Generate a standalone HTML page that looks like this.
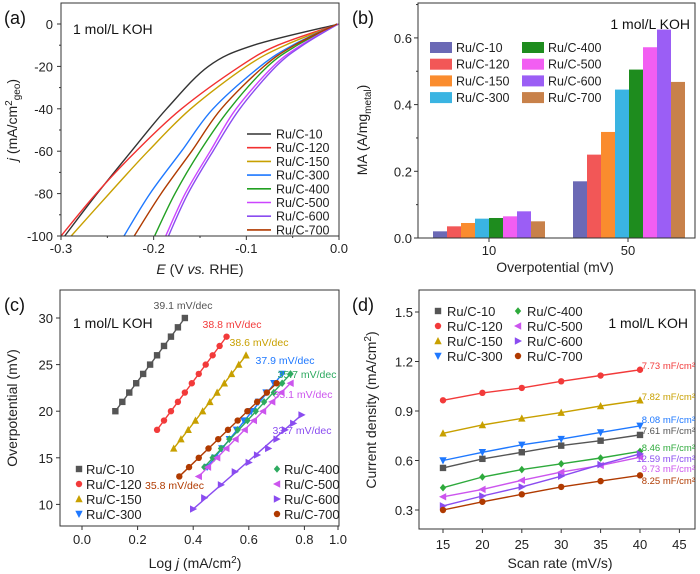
<!DOCTYPE html>
<html><head><meta charset="utf-8"><style>
body{margin:0;background:#fff}
svg{display:block;font-family:"Liberation Sans",Arial,sans-serif}
</style></head><body>
<svg id="fig" width="700" height="574" viewBox="0 0 700 574" xmlns="http://www.w3.org/2000/svg"></svg>
<script>
// ---------- Panel (a) data ----------
const aNames = ["Ru/C-10","Ru/C-120","Ru/C-150","Ru/C-300","Ru/C-400","Ru/C-500","Ru/C-600","Ru/C-700"];
const aColors = ["#333333","#f23030","#c8a000","#1e78ff","#22a022","#cc44ff","#8a4cf0","#b03a00"];
const aJ = [0,-10,-20,-40,-60,-80,-100];
const aE10  = [0,-0.092,-0.141,-0.186,-0.224,-0.261,-0.296];
const aE120 = [0,-0.066,-0.107,-0.170,-0.219,-0.262,-0.300];
const aE150 = [0,-0.058,-0.100,-0.160,-0.206,-0.248,-0.289];
const aE300 = [-0.002,-0.050,-0.085,-0.136,-0.170,-0.204,-0.232];
const aE400 = [-0.002,-0.045,-0.077,-0.118,-0.150,-0.177,-0.199];
const aE500 = [-0.001,-0.041,-0.071,-0.111,-0.139,-0.166,-0.187];
const aE600 = [-0.001,-0.039,-0.068,-0.107,-0.136,-0.163,-0.184];
const aE700 = [-0.002,-0.048,-0.081,-0.127,-0.159,-0.192,-0.221];
const aSeries = [aE10,aE120,aE150,aE300,aE400,aE500,aE600,aE700];
const aXTicks = [-0.3,-0.2,-0.1,0.0];
const aYTicks = [0,-20,-40,-60,-80,-100];
// ---------- Panel (b) data ----------
const bCats = ["10","50"];
const bColors = ["#6b69b5","#f25757","#fa8c2e","#3ab4e2","#1e8c1e","#f25ef2","#9b5ef5","#c8814a"];
const bVals10 = [0.02,0.035,0.045,0.058,0.06,0.065,0.08,0.05];
const bVals50 = [0.17,0.25,0.318,0.445,0.505,0.572,0.625,0.468];
const bYTicks = [0.0,0.2,0.4,0.6];
// ---------- Panel (c) data ----------
const cColors = ["#555555","#f23a3a","#c8a000","#1e78ff","#2eaa60","#cc55ee","#8a4cf0","#b03a00"];
const cX10  = [0.12,0.145,0.17,0.195,0.22,0.245,0.27,0.295,0.32,0.345,0.37];
const cY10  = [20,21,22,23,24,25,26,27,28,29,30];
const cX120 = [0.27,0.295,0.32,0.345,0.37,0.395,0.42,0.445,0.47,0.495,0.52];
const cY120 = [18,19,20,21,22,23,24,25,26,27,28];
const cX150 = [0.33,0.356,0.382,0.408,0.434,0.46,0.486,0.512,0.538,0.564,0.59];
const cY150 = [16,17,18,19,20,21,22,23,24,25,26];
const cX300 = [0.45,0.477,0.503,0.53,0.556,0.582,0.609,0.635,0.662,0.69,0.72];
const cY300 = [14,15,16,17,18,19,20,21,22,23,24];
const cX400 = [0.44,0.47,0.50,0.53,0.56,0.595,0.625,0.655,0.69,0.72,0.75];
const cY400 = [14,15,16,17,18,19,20,21,22,23,24];
const cX500 = [0.42,0.453,0.486,0.519,0.552,0.585,0.618,0.651,0.684,0.717,0.75];
const cY500 = [13,14,15,16,17,18,19,20,21,22,23];
const cX600 = [0.40,0.44,0.50,0.55,0.60,0.63,0.67,0.70,0.73,0.76,0.79];
const cY600 = [9.5,10.7,12.1,13.5,14.5,15.3,16,17,18,18.7,19.6];
const cX700 = [0.35,0.385,0.42,0.455,0.49,0.525,0.56,0.595,0.63,0.665,0.70];
const cY700 = [13,14,15,16,17,18,19,20,21,22,23];
const cXs = [cX10,cX120,cX150,cX300,cX400,cX500,cX600,cX700];
const cYs = [cY10,cY120,cY150,cY300,cY400,cY500,cY600,cY700];
const cMarkers = ["square","circle","up","down","diamond","left","right","circle"];
const cSlopes = ["39.1 mV/dec","38.8 mV/dec","38.6 mV/dec","37.9 mV/dec","35.7 mV/dec","35.1 mV/dec","33.7 mV/dec","35.8 mV/dec"];
const cXTicks = [0.0,0.2,0.4,0.6,0.8,1.0];
const cYTicks = [10,15,20,25,30];
// ---------- Panel (d) data ----------
const dRates = [15,20,25,30,35,40];
const d10  = [0.555,0.61,0.65,0.69,0.72,0.755];
const d120 = [0.965,1.01,1.04,1.08,1.115,1.15];
const d150 = [0.765,0.815,0.855,0.89,0.93,0.965];
const d300 = [0.60,0.65,0.695,0.73,0.77,0.81];
const d400 = [0.435,0.50,0.545,0.58,0.615,0.655];
const d500 = [0.38,0.425,0.48,0.53,0.57,0.62];
const d600 = [0.325,0.385,0.44,0.505,0.575,0.64];
const d700 = [0.30,0.35,0.395,0.44,0.475,0.51];
const dSeries = [d10,d120,d150,d300,d400,d500,d600,d700];
const dColors = ["#555555","#f23a3a","#c8a000","#1e78ff","#2eaa3c","#cc55ee","#8a4cf0","#b03a00"];
const dCdl = ["7.61 mF/cm²","7.73 mF/cm²","7.82 mF/cm²","8.08 mF/cm²","8.46 mF/cm²","9.73 mF/cm²","12.59 mF/cm²","8.25 mF/cm²"];
const dXTicks = [15,20,25,30,35,40,45];
const dYTicks = [0.3,0.6,0.9,1.2,1.5];

const NS="http://www.w3.org/2000/svg";
const svg=document.getElementById('fig');
function mk(tag,attrs,parent,txt){const e=document.createElementNS(NS,tag);for(const k in attrs)e.setAttribute(k,attrs[k]);if(txt!==undefined)e.textContent=txt;(parent||svg).appendChild(e);return e;}
function txt(x,y,s,size,anchor,fill,name,extra){const e=mk('text',Object.assign({x:x,y:y,'font-size':size,'text-anchor':anchor||'start',fill:fill||'#222'},extra||{}),svg,s);


return e;}
function line(x1,y1,x2,y2,name,stroke,w){const e=mk('line',{x1:x1,y1:y1,x2:x2,y2:y2,stroke:stroke||'#333','stroke-width':w||1});


return e;}
function box(x1,y1,x2,y2,name){const e=mk('rect',{x:x1,y:y1,width:x2-x1,height:y2-y1,fill:'none',stroke:'#333','stroke-width':1});

}
function smooth(pts){let d='M'+pts[0][0].toFixed(1)+','+pts[0][1].toFixed(1);
for(let i=0;i<pts.length-1;i++){const p0=pts[Math.max(0,i-1)],p1=pts[i],p2=pts[i+1],p3=pts[Math.min(pts.length-1,i+2)];
const c1=[p1[0]+(p2[0]-p0[0])/6,p1[1]+(p2[1]-p0[1])/6],c2=[p2[0]-(p3[0]-p1[0])/6,p2[1]-(p3[1]-p1[1])/6];
d+=' C'+c1.map(v=>v.toFixed(1)).join(',')+' '+c2.map(v=>v.toFixed(1)).join(',')+' '+p2.map(v=>v.toFixed(1)).join(',');}
return d;}
function marker(type,x,y,color,name){let e;const s=3.2;
if(type==='square')e=mk('rect',{x:x-s,y:y-s,width:2*s,height:2*s,fill:color});
else if(type==='circle')e=mk('circle',{cx:x,cy:y,r:s,fill:color});
else{let p;if(type==='up')p=[[x,y-s-0.8],[x-s-0.5,y+s],[x+s+0.5,y+s]];else if(type==='down')p=[[x,y+s+0.8],[x-s-0.5,y-s],[x+s+0.5,y-s]];else if(type==='left')p=[[x-s-0.8,y],[x+s,y-s-0.5],[x+s,y+s+0.5]];else if(type==='right')p=[[x+s+0.8,y],[x-s,y-s-0.5],[x-s,y+s+0.5]];else p=[[x,y-s-0.6],[x+s,y],[x,y+s+0.6],[x-s,y]];
e=mk('polygon',{points:p.map(q=>q.join(',')).join(' '),fill:color});}

}

// ================= Panel (a) =================
(function(){
const L=61,R=339,T=3,B=236;
const xs=v=>L+(v+0.3)/0.3*(R-L);
const ys=v=>24+(0-v)*2.12;
txt(4,24,'(a)',18,'start','#111','panel-label-a');
txt(73,34,'1 mol/L KOH',14,'start','#111','electrolyte-label-a');
const clip=mk('clipPath',{id:'clipA'});mk('rect',{x:L,y:T,width:R-L,height:B-T},clip);
aSeries.forEach((E,i)=>{const pts=E.map((e,k)=>[xs(e),ys(aJ[k])]);
const p=mk('path',{d:smooth(pts),fill:'none',stroke:aColors[i],'stroke-width':1.4,'stroke-linejoin':'round','clip-path':'url(#clipA)'});

});
box(L,T,R,B,'plot-frame-a');
aYTicks.forEach(v=>{line(L-4,ys(v),L,ys(v),'y-tick-a');txt(L-8,ys(v)+5,String(v),13,'end','#222','y-tick-label-a');});
for(let v=-90;v<=0;v+=20)line(L-2,ys(v),L,ys(v),'y-minor-tick-a');
aXTicks.forEach(v=>{line(xs(v),B,xs(v),B+4,'x-tick-a');txt(xs(v),B+17,v.toFixed(1),13,'middle','#222','x-tick-label-a');});
[-0.25,-0.15,-0.05].forEach(v=>line(xs(v),B,xs(v),B+2,'x-minor-tick-a'));
const xt=txt(200,274,'',14,'middle','#222','x-axis-title-a');
xt.innerHTML='<tspan font-style="italic">E</tspan> (V <tspan font-style="italic">vs.</tspan> RHE)';
const yt=txt(0,0,'',14,'middle','#222','y-axis-title-a',{transform:'translate(17,120) rotate(-90)'});
yt.innerHTML='<tspan font-style="italic">j</tspan> (mA/cm<tspan dy="-5" font-size="10">2</tspan><tspan dy="8" font-size="10">geo</tspan><tspan dy="-3">)</tspan>';
aNames.forEach((n,i)=>{const y=134+i*13.7;line(247,y,271,y,'legend-line-a',aColors[i],1.6);txt(276,y+4.5,n,12.5,'start','#222','legend-entry-a');});
})();

// ================= Panel (b) =================
(function(){
const L=418,R=695,T=3,B=238;
const ys=v=>B-v/0.2*66.7;
const bw=14;
txt(352,24,'(b)',18,'start','#111','panel-label-b');
txt(690,29,'1 mol/L KOH',14,'end','#111','electrolyte-label-b');
const groups=[bVals10,bVals50];const starts=[433,573];
groups.forEach((vals,g)=>vals.forEach((v,i)=>{const r=mk('rect',{x:starts[g]+i*bw,y:ys(v),width:bw,height:B-ys(v),fill:bColors[i]});

}));
box(L,T,R,B,'plot-frame-b');
bYTicks.forEach(v=>{line(L-4,ys(v),L,ys(v),'y-tick-b');txt(L-6,ys(v)+5,v.toFixed(1),13,'end','#222','y-tick-label-b');});
[0.1,0.3,0.5,0.7].forEach(v=>line(L-2,ys(v),L,ys(v),'y-minor-tick-b'));
const cx=[489,628];
bCats.forEach((c,i)=>{line(cx[i],B,cx[i],B+4,'x-tick-b');txt(cx[i],B+17,c,13,'middle','#222','x-tick-label-b');});
txt(555,272,'Overpotential (mV)',14,'middle','#222','x-axis-title-b');
const yt=txt(0,0,'',14,'middle','#222','y-axis-title-b',{transform:'translate(367,130) rotate(-90)'});
yt.innerHTML='MA (A/mg<tspan dy="4" font-size="10">metal</tspan><tspan dy="-4">)</tspan>';
aNames.forEach((n,i)=>{const col=Math.floor(i/4),row=i%4;const x=col?522:430,y=42+row*16.7;
const s=mk('rect',{x:x,y:y,width:22,height:11,fill:bColors[i]});


txt(x+26,y+10,n,12.5,'start','#222','legend-entry-b');});
})();

// ================= Panel (c) =================
(function(){
const L=60,R=339,T=290,B=526;
const xs=v=>82+v*278;
const ys=v=>318+(30-v)*9.32;
txt(4,311,'(c)',18,'start','#111','panel-label-c');
txt(73,328,'1 mol/L KOH',14,'start','#111','electrolyte-label-c');
cXs.forEach((X,i)=>{const Y=cYs[i];
const l=mk('line',{x1:xs(X[0]),y1:ys(Y[0]),x2:xs(X[X.length-1]),y2:ys(Y[Y.length-1]),stroke:cColors[i],'stroke-width':1.4});


X.forEach((x,k)=>marker(cMarkers[i],xs(x),ys(Y[k]),cColors[i],'tafel-point'));});
box(L,T,R,B,'plot-frame-c');
cYTicks.forEach(v=>{line(L-4,ys(v),L,ys(v),'y-tick-c');txt(L-7,ys(v)+5,String(v),13,'end','#222','y-tick-label-c');});
cXTicks.forEach(v=>{const x=Math.min(xs(v),338);line(x,B,x,B+4,'x-tick-c');txt(x,B+18,v.toFixed(1),13,'middle','#222','x-tick-label-c');});
const slopePos=[[183,309],[232,328],[259,346],[285,364],[307,378],[303,398],[302,434],[145,489]];
cSlopes.forEach((s,i)=>txt(slopePos[i][0],slopePos[i][1],s,10.5,i===7?'start':'middle',cColors[i],'slope-label'));
const xt=txt(195,568,'',14,'middle','#222','x-axis-title-c');
xt.innerHTML='Log <tspan font-style="italic">j</tspan> (mA/cm<tspan dy="-5" font-size="10">2</tspan><tspan dy="5">)</tspan>';
txt(0,0,'Overpotential (mV)',14,'middle','#222','y-axis-title-c',{transform:'translate(17,408) rotate(-90)'});
aNames.forEach((n,i)=>{const col=Math.floor(i/4),row=i%4;const x=col?277:79,y=469+row*15;
marker(cMarkers[i],x,y,cColors[i],'legend-marker-c');
txt(x+7,y+5,n,13,'start','#222','legend-entry-c');});
})();

// ================= Panel (d) =================
(function(){
const L=419,R=695,T=290,B=529;
const xs=v=>443+(v-15)/5*39.4;
const ys=v=>510-(v-0.3)/0.3*49.5;
txt(352,311,'(d)',18,'start','#111','panel-label-d');
txt(688,328,'1 mol/L KOH',14,'end','#111','electrolyte-label-d');
dSeries.forEach((vals,i)=>{const d=vals.map((v,k)=>(k?'L':'M')+xs(dRates[k]).toFixed(1)+','+ys(v).toFixed(1)).join(' ');
const p=mk('path',{d:d,fill:'none',stroke:dColors[i],'stroke-width':1.4});


vals.forEach((v,k)=>marker(cMarkers[i],xs(dRates[k]),ys(v),dColors[i],'cdl-point'));});
box(L,T,R,B,'plot-frame-d');
dYTicks.forEach(v=>{line(L-4,ys(v),L,ys(v),'y-tick-d');txt(L-6,ys(v)+5,v.toFixed(1),13,'end','#222','y-tick-label-d');});
dXTicks.forEach(v=>{line(xs(v),B,xs(v),B+4,'x-tick-d');txt(xs(v),B+20,String(v),13,'middle','#222','x-tick-label-d');});
txt(560,568,'Scan rate (mV/s)',14,'middle','#222','x-axis-title-d');
const yt=txt(0,0,'',14,'middle','#222','y-axis-title-d',{transform:'translate(376,410) rotate(-90)'});
yt.innerHTML='Current density (mA/cm<tspan dy="-5" font-size="10">2</tspan><tspan dy="5">)</tspan>';
const labY=[434,369,400,423,451,472,462,484];
dCdl.forEach((s,i)=>txt(695,labY[i],s,9.5,'end',dColors[i],'cdl-label'));
aNames.forEach((n,i)=>{const col=Math.floor(i/4),row=i%4;const x=col?518:438,y=311+row*15;
marker(cMarkers[i],x,y,dColors[i],'legend-marker-d');
txt(x+9,y+5,n,13,'start','#222','legend-entry-d');});
})();
</script>
</body></html>
